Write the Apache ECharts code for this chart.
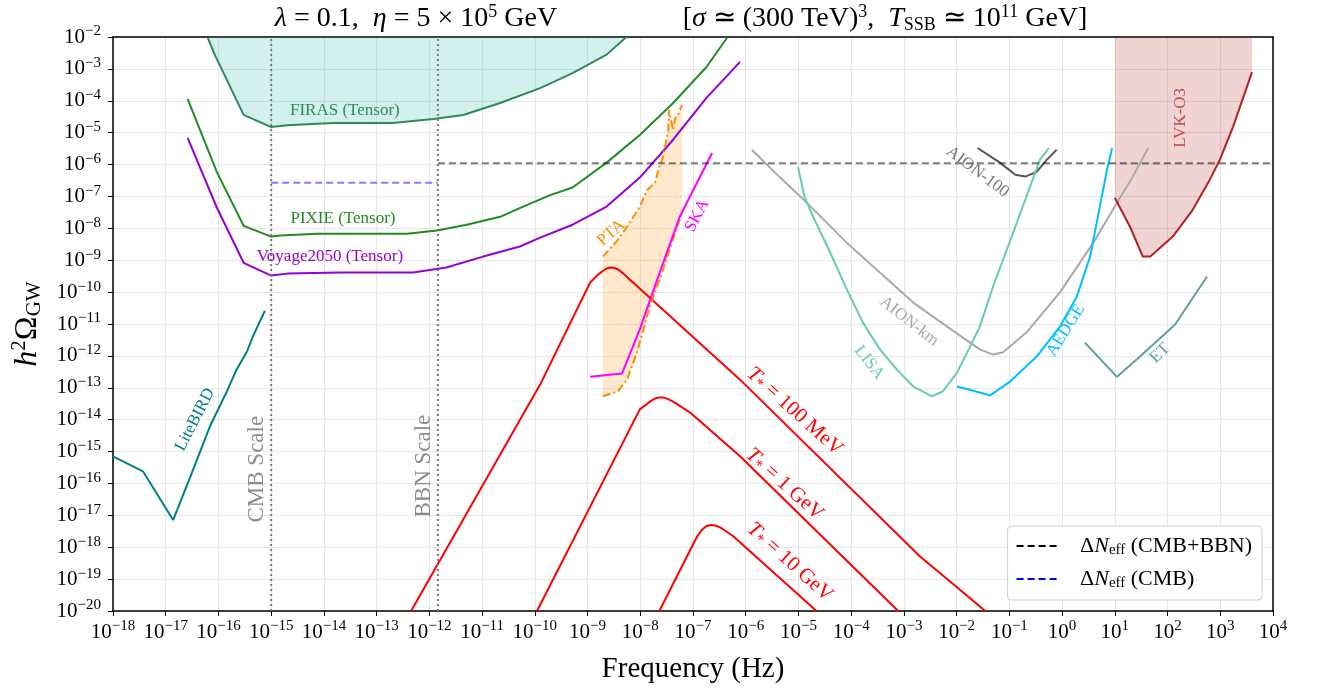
<!DOCTYPE html>
<html>
<head>
<meta charset="utf-8">
<script src="https://cdn.jsdelivr.net/npm/echarts@6/dist/echarts.min.js"></script>
<style>
  html, body { margin: 0; padding: 0; background: #fff; }
  #main { width: 1321px; height: 689px; }
</style>
</head>
<body>
<div id="main"></div>
<script>
// ---- data: [frequency (Hz), h^2 Omega_GW] ----
const firas = [[6.3e-17, 9.3e-3], [8.5e-17, 2.8e-3], [3.0e-16, 3.6e-5], [1e-15, 1.5e-5], [2e-15, 1.7e-5],
  [1.5e-14, 2.0e-5], [2.0e-13, 2.0e-5], [1.2e-12, 2.7e-5], [4.4e-12, 3.6e-5], [2.2e-11, 8.5e-5],
  [1.26e-10, 2.5e-4], [5.2e-10, 7.4e-4], [2.3e-9, 2.8e-3], [4.7e-9, 8.1e-3], [5.5e-9, 1e-2]];
const pixie = [[2.6e-17, 1.15e-4], [9.3e-17, 5.9e-7], [3.0e-16, 1.2e-8], [1e-15, 5.5e-9], [1.5e-15, 6e-9],
  [7.4e-15, 6.8e-9], [3.8e-13, 6.8e-9], [1.4e-12, 8.5e-9], [5.1e-12, 1.3e-8], [2.2e-11, 2.3e-8],
  [6e-11, 4.8e-8], [1.95e-10, 1.1e-7], [5.2e-10, 1.9e-7], [2.3e-9, 1.15e-6], [9.8e-9, 8.5e-6],
  [4.2e-8, 8.5e-5], [1.8e-7, 1.15e-3], [4.4e-7, 9.3e-3]];
const voyage = [[2.6e-17, 6.9e-6], [9.3e-17, 4.5e-8], [3.0e-16, 8.3e-10], [1e-15, 3.3e-10], [2e-15, 3.8e-10],
  [2e-14, 4.1e-10], [4.9e-13, 4.1e-10], [2.1e-12, 5.9e-10], [1.05e-11, 1.3e-9], [5.2e-11, 2.7e-9],
  [1.26e-10, 5.1e-9], [5.2e-10, 1.3e-8], [2.3e-9, 4.8e-8], [9.8e-9, 3.9e-7], [4.2e-8, 6e-6],
  [1.8e-7, 1.23e-4], [7.8e-7, 1.66e-3]];
const litebird = [[1e-18, 7.1e-16], [3.7e-18, 2.4e-16], [1.38e-17, 7.1e-18], [2.9e-17, 1.55e-16],
  [6.9e-17, 6.2e-15], [1.45e-16, 7.8e-14], [2.2e-16, 3.7e-13], [3.5e-16, 1.4e-12], [4.5e-16, 4.1e-12],
  [7.6e-16, 2.6e-11]];
const tStar100MeV = [[4.5e-13, 1e-20], [1.26e-10, 1.26e-13], [1.12e-9, 2e-10], [1.6e-9, 3.6e-10],
  [1.95e-9, 4.6e-10], [2.3e-9, 5.5e-10], [2.7e-9, 5.9e-10], [3.2e-9, 5.7e-10], [3.8e-9, 5.1e-10],
  [4.8e-9, 3.8e-10], [6.3e-9, 2.5e-10], [1.5e-8, 6.8e-11], [7.8e-7, 1.8e-13], [2e-3, 5.2e-19], [3.5e-2, 1e-20]];
const tStar1GeV = [[1.1e-10, 1e-20], [9.8e-9, 2.1e-14], [1.5e-8, 3.6e-14], [1.9e-8, 4.6e-14], [2.3e-8, 5e-14],
  [2.7e-8, 5e-14], [3.3e-8, 4.5e-14], [4.2e-8, 3.7e-14], [8.7e-8, 1.7e-14], [7.8e-7, 7.1e-16], [7.8e-4, 1e-20]];
const tStar10GeV = [[2.3e-8, 1e-20], [1.2e-7, 2.2e-18], [1.5e-7, 3.6e-18], [1.8e-7, 4.6e-18], [2.2e-7, 5e-18],
  [2.8e-7, 4.7e-18], [3.6e-7, 3.8e-18], [5.8e-7, 2.2e-18], [2.2e-5, 1e-20]];
const ptaUpper = [[1.95e-9, 1.3e-9], [3.8e-9, 4.4e-9], [6.3e-9, 1.5e-8], [9.8e-9, 4.8e-8], [1.35e-8, 1.6e-7],
  [1.9e-8, 2.7e-7], [2.3e-8, 8.5e-7], [2.7e-8, 1.7e-6], [3.4e-8, 1.2e-5], [3.5e-8, 5.1e-5],
  [4.2e-8, 1.2e-5], [4.6e-8, 2.9e-5], [5.1e-8, 3.2e-5], [6.2e-8, 7.4e-5]];
const ptaLower = [[1.95e-9, 5.4e-14], [3.8e-9, 7.8e-14], [5.6e-9, 1.8e-13], [8.7e-9, 1.3e-12],
  [1.5e-8, 3.3e-11], [2.7e-8, 5.1e-10], [5e-8, 1.1e-8], [6.2e-8, 3.1e-8]];
const ska = [[1.12e-9, 2.2e-13], [4.5e-9, 2.8e-13], [9.8e-9, 6.8e-12], [2.2e-8, 3.1e-10], [5.6e-8, 2.3e-8],
  [2.3e-7, 2.3e-6]];
const aion100 = [[2.5e-2, 3.3e-6], [6.6e-2, 1.15e-6], [0.13, 4.8e-7], [0.2, 4.2e-7], [0.33, 5.9e-7],
  [0.51, 1.4e-6], [0.79, 2.9e-6]];
const aionKm = [[1.3e-6, 2.9e-6], [4.5e-6, 3.9e-7], [1.45e-5, 6.3e-8], [8.3e-5, 3.5e-9], [3.5e-4, 4.1e-10],
  [1.5e-3, 4.7e-11], [6.6e-3, 8.3e-12], [2.75e-2, 1.6e-12], [4.9e-2, 1.1e-12], [7.6e-2, 1.3e-12],
  [0.21, 5.4e-12], [0.91, 9.8e-11], [3.9, 3.5e-9], [11, 6.3e-8], [22, 4.2e-7], [43, 3.3e-6]];
const lisa = [[9.8e-6, 8.5e-7], [1.3e-5, 9.8e-8], [1.9e-5, 2.3e-8], [4e-5, 1.74e-9], [8.3e-5, 1.2e-10],
  [1.66e-4, 1.12e-11], [3.5e-4, 1.6e-12], [7.4e-4, 3.7e-13], [1.5e-3, 1.1e-13], [3.4e-3, 5.4e-14],
  [5.5e-3, 7.8e-14], [1.02e-2, 3e-13], [1.8e-2, 1.95e-12], [2.75e-2, 8.3e-12], [4.9e-2, 1.5e-10],
  [0.1, 3.5e-9], [0.21, 9.8e-8], [0.38, 1.4e-6], [0.56, 3.3e-6]];
const aedge = [[1.02e-2, 1.1e-13], [4.3e-2, 5.8e-14], [0.1, 1.5e-13], [0.33, 9.5e-13], [0.91, 8.3e-12],
  [1.9, 7.2e-11], [3.4, 1.3e-9], [5.2, 4.8e-8], [7.1, 6.9e-7], [8.9, 3.3e-6]];
const et = [[2.7, 2.6e-12], [11, 2.2e-13], [30, 9.5e-13], [138, 9.5e-12], [560, 3.1e-10]];
const lvk = [[10, 9.1e-8], [19.5, 1.1e-8], [34, 1.3e-9], [47, 1.3e-9], [126, 5.5e-9], [300, 3.8e-8],
  [630, 3.3e-7], [980, 1.4e-6], [1740, 1.5e-5], [4000, 7.9e-4]];
// Delta N_eff bounds and reference scales
const neffCmbBbn = [[1.45e-12, 1.1e-6], [1e4, 1.1e-6]];
const neffCmb = [[1e-15, 2.7e-7], [1.45e-12, 2.7e-7]];
const cmbScale = 1e-15;
const bbnScale = 1.45e-12;
// axis ranges (decade exponents)
const xExp = [-18, 4];
const yExp = [-20, -2];

const FONT = 'Liberation Serif';
const chart = echarts.init(document.getElementById('main'));

const supRich = {
  b: { fontFamily: FONT, fontSize: 21, color: '#000' },
  s: { fontFamily: FONT, fontSize: 15, color: '#000', padding: [0, 0, 11, 0] }
};
const expLabel = v => '{b|10}{s|' + (v < 0 ? '\u2212' : '') + Math.abs(v) + '}';

function line(data, color, width, extra) {
  return Object.assign({
    type: 'line', xAxisIndex: 0, yAxisIndex: 0, data: data,
    symbol: 'none', silent: true, z: 3,
    lineStyle: { color: color, width: width || 2 }
  }, extra || {});
}

// filled region between two curves, drawn through the axes with api.coord
function region(upper, lower, color) {
  const pts = upper.concat(lower.slice().reverse());
  return {
    type: 'custom', xAxisIndex: 0, yAxisIndex: 0, data: pts, silent: true, z: 1,
    renderItem: (params, api) => {
      if (params.dataIndex !== 0) return null;
      return { type: 'polygon', shape: { points: pts.map(p => api.coord(p)) }, style: { fill: color } };
    }
  };
}

const titleRich = {
  i: { fontFamily: FONT, fontSize: 28, fontStyle: 'italic' },
  sup: { fontFamily: FONT, fontSize: 18, padding: [0, 0, 14, 0] },
  sub: { fontFamily: FONT, fontSize: 18, padding: [12, 0, 0, 0] }
};
const titleStyle = { fontFamily: FONT, fontSize: 28, fontWeight: 'normal', color: '#000', rich: titleRich };

const option = {
  animation: false,
  backgroundColor: '#fff',
  title: [
    { text: '{i|λ} = 0.1,  {i|η} = 5 × 10{sup|5} GeV', left: 411, top: -2, textAlign: 'center', textStyle: titleStyle },
    { text: '[{i|σ} ≃ (300 TeV){sup|3},  {i|T}{sub|SSB} ≃ 10{sup|11} GeV]', left: 880, top: -2, textAlign: 'center', textStyle: titleStyle }
  ],
  grid: { left: 113, right: 48, top: 37, bottom: 77 },
  legend: {
    right: 59, bottom: 89, orient: 'vertical',
    backgroundColor: '#fff', borderColor: '#d0d0d0', borderWidth: 1, borderRadius: 4,
    padding: [9, 10, 9, 8], itemWidth: 42, itemHeight: 10, itemGap: 10,
    data: [
      { name: 'bbn', lineStyle: { color: '#000' }, itemStyle: { color: '#000', opacity: 0 } },
      { name: 'cmb', lineStyle: { color: '#0000ff' }, itemStyle: { color: '#0000ff', opacity: 0 } }
    ],
    formatter: n => n === 'bbn' ? '   Δ{i|N}{sub|eff} (CMB+BBN)' : '   Δ{i|N}{sub|eff} (CMB)',
    textStyle: {
      fontFamily: FONT, fontSize: 22, color: '#000',
      rich: {
        i: { fontFamily: FONT, fontSize: 22, fontStyle: 'italic' },
        sub: { fontFamily: FONT, fontSize: 15, padding: [9, 0, 0, 0] }
      }
    }
  },
  xAxis: [
    { type: 'log', logBase: 10, min: 1e-18, max: 1e4, position: 'top',
      axisLine: { show: true, onZero: false, lineStyle: { color: '#000', width: 1.5 } },
      axisTick: { show: false }, axisLabel: { show: false }, splitLine: { show: false } },
    { type: 'value', min: xExp[0], max: xExp[1], interval: 1, position: 'bottom',
      name: 'Frequency (Hz)', nameLocation: 'middle', nameGap: 44,
      nameTextStyle: { fontFamily: FONT, fontSize: 29, color: '#000' },
      axisLine: { show: true, onZero: false, lineStyle: { color: '#000', width: 1.5 } },
      axisTick: { show: true, length: 5, lineStyle: { color: '#000' } },
      axisLabel: { margin: 8, formatter: expLabel, rich: supRich, hideOverlap: false },
      splitLine: { show: true, lineStyle: { color: '#e6e6e6', width: 1 } } }
  ],
  yAxis: [
    { type: 'log', logBase: 10, min: 1e-20, max: 1e-2, position: 'right',
      axisLine: { show: true, onZero: false, lineStyle: { color: '#000', width: 1.5 } },
      axisTick: { show: false }, axisLabel: { show: false }, splitLine: { show: false } },
    { type: 'value', min: yExp[0], max: yExp[1], interval: 1, position: 'left',
      name: '{i|h}{sup|2}Ω{sub|GW}', nameLocation: 'middle', nameGap: 67, nameRotate: 90,
      nameTextStyle: {
        fontFamily: FONT, fontSize: 32, color: '#000',
        rich: {
          i: { fontFamily: FONT, fontSize: 32, fontStyle: 'italic' },
          sup: { fontFamily: FONT, fontSize: 21, padding: [0, 0, 16, 0] },
          sub: { fontFamily: FONT, fontSize: 21, padding: [14, 0, 0, 0] }
        }
      },
      axisLine: { show: true, onZero: false, lineStyle: { color: '#000', width: 1.5 } },
      axisTick: { show: true, length: 5, lineStyle: { color: '#000' } },
      axisLabel: { margin: 12, formatter: expLabel, rich: supRich },
      splitLine: { show: true, lineStyle: { color: '#e6e6e6', width: 1 } } }
  ],
  series: [
    line(firas, '#2e8b57', 2, { areaStyle: { origin: 'end', color: 'rgba(32,178,170,0.2)', opacity: 1 } }),
    line(pixie, '#228b22'),
    line(voyage, '#9400d3'),
    line(litebird, '#008080'),
    line(tStar100MeV, '#ff0000'),
    line(tStar1GeV, '#ff0000'),
    line(tStar10GeV, '#ff0000'),
    region(ptaUpper, ptaLower, 'rgba(255,140,0,0.2)'),
    line(ptaUpper, '#ff8c00', 2, { lineStyle: { color: '#ff8c00', width: 2, type: [8, 3, 2, 3] } }),
    line(ptaLower, '#ff8c00', 2, { lineStyle: { color: '#ff8c00', width: 2, type: [8, 3, 2, 3] } }),
    line(ska, '#ff00ff'),
    line(aion100, '#555555'),
    line(aionKm, '#a9a9a9'),
    line(lisa, '#66cdaa'),
    line(aedge, '#00bfff'),
    line(et, '#5f9ea0'),
    line(lvk, '#b22222', 2, { areaStyle: { origin: 'end', color: 'rgba(178,34,34,0.2)', opacity: 1 } }),
    line([[cmbScale, 1e-20], [cmbScale, 1e-2]], '#777', 2, { lineStyle: { color: '#777', width: 2, type: [2, 3] } }),
    line([[bbnScale, 1e-20], [bbnScale, 1e-2]], '#777', 2, { lineStyle: { color: '#777', width: 2, type: [2, 3] } }),
    line(neffCmbBbn, 'rgba(0,0,0,0.5)', 2, { name: 'bbn', lineStyle: { color: 'rgba(0,0,0,0.5)', width: 2, type: [7, 4] } }),
    line(neffCmb, 'rgba(0,0,255,0.5)', 2, { name: 'cmb', lineStyle: { color: 'rgba(0,0,255,0.5)', width: 2, type: [7, 4] } })
  ]
};
chart.setOption(option);

// curve labels, anchored at data positions
const labels = [
  { t: 'FIRAS (Tensor)', at: [2.5e-14, 5.1e-5], c: '#2e8b57', s: 17, r: 0 },
  { t: 'PIXIE (Tensor)', at: [2.3e-14, 2.1e-8], c: '#228b22', s: 17, r: 0 },
  { t: 'Voyage2050 (Tensor)', at: [1.3e-14, 1.3e-9], c: '#9400d3', s: 17, r: 0 },
  { t: 'LiteBIRD', at: [3.6e-17, 1e-14], c: '#008080', s: 17, r: 63 },
  { t: 'CMB Scale', at: [5.4e-16, 2.8e-16], c: '#8c8c8c', s: 23, r: 90 },
  { t: 'BBN Scale', at: [7.9e-13, 3.5e-16], c: '#8c8c8c', s: 23, r: 90 },
  { t: 'PTA', at: [2.8e-9, 7.2e-9], c: '#ff8c00', s: 17, r: 42 },
  { t: 'SKA', at: [1.2e-7, 2.5e-8], c: '#ff00ff', s: 17, r: 62 },
  { t: '{i|T}{sub|*} = 100 MeV', at: [8.5e-6, 1.8e-14], c: '#ff0000', s: 21, r: -42 },
  { t: '{i|T}{sub|*} = 1 GeV', at: [5.5e-6, 9.3e-17], c: '#ff0000', s: 21, r: -42 },
  { t: '{i|T}{sub|*} = 10 GeV', at: [6.9e-6, 3.4e-19], c: '#ff0000', s: 21, r: -42 },
  { t: 'AION-100', at: [2.5e-2, 5.9e-7], c: '#777777', s: 17, r: -37 },
  { t: 'AION-km', at: [1.26e-3, 1.2e-11], c: '#a9a9a9', s: 17, r: -38 },
  { t: 'LISA', at: [2.2e-4, 6.2e-13], c: '#66cdaa', s: 17, r: -52 },
  { t: 'AEDGE', at: [1.17, 6.3e-12], c: '#00bfff', s: 17, r: 58 },
  { t: 'ET', at: [72, 1.2e-12], c: '#5f9ea0', s: 17, r: 45 },
  { t: 'LVK-O3', at: [174, 2.9e-5], c: '#c04a4a', s: 17, r: 90 }
];
chart.setOption({
  graphic: labels.map(l => {
    const p = chart.convertToPixel({ seriesIndex: 0 }, l.at);
    return {
      type: 'text', x: p[0], y: p[1], rotation: l.r * Math.PI / 180, z: 10, silent: true,
      style: {
        text: l.t, fill: l.c, align: 'center', verticalAlign: 'middle',
        font: l.s + 'px "' + FONT + '"',
        rich: {
          i: { fontFamily: FONT, fontSize: l.s, fontStyle: 'italic', fill: l.c },
          sub: { fontFamily: FONT, fontSize: Math.round(l.s * 0.7), fill: l.c, padding: [8, 0, 0, 0] }
        }
      }
    };
  })
});
</script>
</body>
</html>
